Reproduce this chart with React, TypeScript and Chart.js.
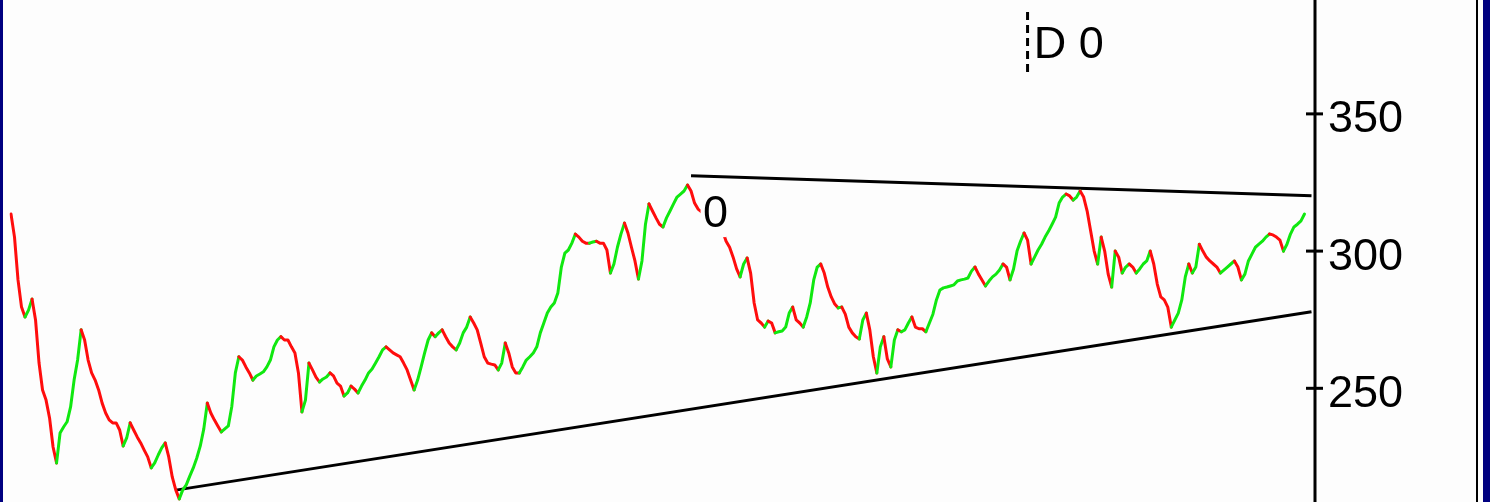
import React, { useEffect, useRef } from 'react';
import { Chart, registerables } from 'chart.js';

Chart.register(...registerables);

// Daily closes, read left to right from the picture (4 stretches)
const closesA = [
  313.5, 305.1, 289.5, 279.6, 276.0, 278.5, 282.5, 274.9, 259.2, 249.4,
  245.7, 239.2, 228.6, 222.8, 233.7, 235.9, 237.8, 243.2, 253.0, 260.3,
  271.3, 267.6, 260.3, 255.6, 253.0, 249.4, 244.6, 241.0, 238.5, 237.4,
  237.4, 234.8, 229.0, 231.9, 237.4, 234.8, 232.3, 230.1, 227.5, 225.0,
  221.0, 222.8, 225.7, 228.3, 230.1, 225.0, 217.7, 213.0, 209.7, 213.0,
  214.8, 218.0, 221.0, 224.6, 229.0, 235.2, 244.6, 241.0, 238.5, 236.3,
  234.1, 235.2, 236.3, 243.5, 255.6, 261.5, 260.3, 257.8, 255.6, 253.0,
  254.5, 255.2, 256.0, 257.8, 260.3, 265.1, 267.6, 268.8, 267.6, 267.6,
  265.1, 262.9, 255.6, 241.4, 245.7, 259.2, 256.7, 254.1, 252.3, 253.4,
  254.1,
];
const closesB = [
  255.6, 254.5, 251.9, 250.8, 247.2, 248.3, 250.8, 249.7, 248.3, 250.8,
  253.0, 255.6, 257.0, 259.2, 261.5, 264.0, 265.1, 264.0, 262.9, 262.2,
  261.5, 259.2, 256.7, 253.0, 249.4, 253.0, 257.8, 262.9, 267.6, 270.2,
  268.8, 270.2, 271.3, 268.8, 266.5, 265.1, 264.0, 266.5, 270.2, 272.3,
  276.0, 273.8, 271.3, 266.5, 261.5, 259.2, 258.8, 258.5, 256.7, 259.2,
  266.5, 262.9, 257.8, 255.6, 255.6, 257.8, 260.3, 261.5, 262.9, 265.1,
  270.2, 273.8, 277.4, 279.6, 281.1, 284.7, 294.2, 299.3, 300.4, 302.9,
  306.2, 305.1, 303.6, 302.9, 302.9, 303.3, 303.6, 302.9, 302.9, 300.4,
  292.0, 295.3, 301.4, 306.2, 310.2, 306.6, 301.4, 296.4, 289.8, 296.4,
  309.8, 317.2, 314.6, 312.1, 309.8,
];
const closesC = [
  308.8, 312.1, 314.6, 317.2, 319.7, 320.8, 321.9, 324.1, 321.9, 317.5,
  315.3, 314.3, 312.8, 311.3, 309.8, 308.8, 308.0, 307.3, 303.6, 301.4,
  297.8, 293.5, 290.6, 295.3, 297.5, 292.0, 281.1, 274.9, 273.8, 272.3,
  274.5, 273.8, 270.2, 270.6, 270.9, 272.3, 277.4, 279.6, 274.9, 273.8,
  272.3, 276.0, 281.1, 289.5, 294.2, 295.3, 292.0, 286.9, 283.3, 280.7,
  279.3, 279.6, 277.0, 272.3, 270.2, 268.8, 268.0, 274.9, 277.4, 271.3,
  261.5, 255.6, 265.1, 268.8, 260.7, 257.8, 267.6, 271.3, 270.6, 271.3,
  273.8, 276.0, 272.3, 271.7, 271.7, 270.6, 273.8, 277.0, 282.2, 285.8,
  286.6, 286.9, 287.3, 287.7, 289.1, 289.5, 289.8, 290.2, 292.7, 294.2,
  291.6, 289.5, 287.3, 289.1,
];
const closesD = [
  290.6, 291.6, 293.1, 295.3, 294.2, 289.5, 293.5, 300.0, 303.6, 306.6,
  304.0, 295.3, 297.8, 300.4, 302.5, 305.1, 307.3, 309.8, 312.4, 317.5,
  319.7, 320.8, 320.1, 318.6, 319.7, 321.9, 319.7, 314.6, 307.3, 300.0,
  295.3, 305.1, 300.0, 291.6, 286.9, 300.0, 297.8, 292.0, 294.2, 295.3,
  294.2, 292.0, 293.5, 295.3, 296.4, 300.0, 295.3, 288.0, 283.3, 282.2,
  279.6, 272.3, 274.9, 277.4, 282.2, 290.6, 295.3, 292.0, 294.2, 302.5,
  300.0, 297.8, 296.4, 295.3, 294.2, 292.0, 293.1, 294.2, 295.3, 296.4,
  294.2, 289.5, 291.6, 296.4, 298.9, 301.4, 302.5, 303.6, 305.1, 306.2,
  305.9, 305.1, 304.0, 300.0, 302.5, 306.2, 308.8, 309.8, 311.0, 313.5,
];
const closes = [...closesA, ...closesB, ...closesC, ...closesD];

// empty day slots to the right of the last close (room for the trend lines)
const emptySlots = 3;
const dayLabels = [...closes, ...new Array(emptySlots).fill(null)].map((_, i) => i);

// price axis
const yTicks = [250, 300, 350];
const yMin = 208.57;
const yMax = 391.5;

// trend lines: [dayIndex, price]
const upperTrend = [[194, 327.5], [371, 320.2]];
const lowerTrend = [[47, 212.9], [371, 277.9]];

// annotations
const peakLabel = { index: 194, value: 327.5, text: '0' };
const markerLabel = { index: 290, text: 'D 0' };

const BG = '#fdfdfd';
const NAVY = '#000080';
const UP = '#10e810';
const DOWN = '#ff0d0d';
const FONT = '45px "Liberation Sans"';

function trendData(pts: number[][]) {
  const arr: (number | null)[] = new Array(dayLabels.length).fill(null);
  pts.forEach(([i, v]) => { arr[i] = v; });
  return arr;
}

const decor = {
  id: 'decor',
  beforeDraw(chart: any) {
    const { ctx, width, height } = chart;
    ctx.save();
    ctx.fillStyle = BG;
    ctx.fillRect(0, 0, width, height);
    ctx.restore();
  },
  afterDatasetsDraw(chart: any) {
    const { ctx } = chart;
    const x = chart.scales.x;
    const y = chart.scales.y;
    ctx.save();
    // "0" label with opaque box
    const px = x.getPixelForValue(peakLabel.index);
    const py = y.getPixelForValue(peakLabel.value);
    ctx.fillStyle = BG;
    ctx.fillRect(px + 9.5, py + 10.5, 25.5, 51);
    ctx.fillStyle = '#000';
    ctx.font = FONT;
    ctx.textAlign = 'left';
    ctx.textBaseline = 'alphabetic';
    ctx.fillText(peakLabel.text, px + 12, py + 51.5);
    // dashed marker + "D 0"
    const mx = x.getPixelForValue(markerLabel.index);
    ctx.strokeStyle = '#000';
    ctx.lineWidth = 3;
    ctx.setLineDash([8, 5]);
    ctx.beginPath();
    ctx.moveTo(mx, 12);
    ctx.lineTo(mx, 75);
    ctx.stroke();
    ctx.setLineDash([]);
    ctx.fillText(markerLabel.text, mx + 6.2, 58.3);
    ctx.restore();
  },
  afterDraw(chart: any) {
    const { ctx, width, height } = chart;
    const y = chart.scales.y;
    const ax = y.left;
    ctx.save();
    ctx.fillStyle = '#000';
    ctx.fillRect(ax - 1.5, 0, 3, height);
    y.ticks.forEach((t: any) => {
      const ty = y.getPixelForValue(t.value);
      ctx.fillRect(ax - 9, ty - 1.5, 17, 3);
    });
    ctx.fillRect(width - 14, 0, 2, height);
    ctx.fillStyle = NAVY;
    ctx.fillRect(0, 0, 3, height);
    ctx.fillRect(width - 7, 0, 7, height);
    ctx.restore();
  },
};

export default function App() {
  const ref = useRef<HTMLCanvasElement | null>(null);

  useEffect(() => {
    document.body.style.margin = '0';
    const canvas = ref.current;
    if (!canvas) return;
    const chart = new Chart(canvas, {
      type: 'line',
      data: {
        labels: dayLabels,
        datasets: [
          {
            data: closes,
            borderWidth: 3,
            pointRadius: 0,
            tension: 0,
            borderCapStyle: 'round',
            borderJoinStyle: 'round',
            borderColor: DOWN,
            segment: {
              borderColor: (c: any) => (c.p1.parsed.y > c.p0.parsed.y ? UP : DOWN),
            },
          },
          {
            data: trendData(upperTrend),
            borderColor: '#000',
            borderWidth: 3,
            pointRadius: 0,
            spanGaps: true,
            tension: 0,
          },
          {
            data: trendData(lowerTrend),
            borderColor: '#000',
            borderWidth: 3,
            pointRadius: 0,
            spanGaps: true,
            tension: 0,
          },
        ],
      },
      options: {
        animation: false,
        responsive: false,
        devicePixelRatio: 1,
        layout: { padding: { left: 11, right: 0, top: 0, bottom: 0 } },
        plugins: { legend: { display: false }, tooltip: { enabled: false } },
        events: [],
        scales: {
          x: { type: 'category', display: false, offset: false },
          y: {
            position: 'right',
            min: yMin,
            max: yMax,
            grid: { display: false, drawTicks: false },
            border: { display: false },
            afterFit: (s: any) => {
              s.width = 175;
              s.paddingTop = 0;
              s.paddingBottom = 0;
            },
            afterBuildTicks: (s: any) => { s.ticks = yTicks.map((v) => ({ value: v })); },
            ticks: {
              padding: 13,
              labelOffset: 6,
              color: '#000',
              font: { family: 'Liberation Sans', size: 45 },
            },
          },
        },
      },
      plugins: [decor],
    } as any);
    return () => chart.destroy();
  }, []);

  return <canvas ref={ref} width={1490} height={502} style={{ display: 'block' }} />;
}
